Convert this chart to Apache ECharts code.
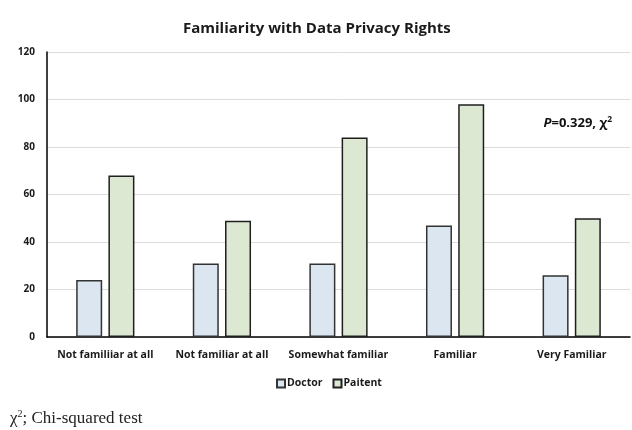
<!DOCTYPE html>
<html>
<head>
<meta charset="utf-8">
<style>
  html, body { margin: 0; padding: 0; background: #fff; }
  #chart { width: 632px; height: 430px; }
</style>
<script src="https://cdn.jsdelivr.net/npm/echarts@6/dist/echarts.min.js"></script>
</head>
<body>
<div id="chart"></div>
<script>
// Familiarity levels and respondent counts
var categories = ['Not familiiar at all', 'Not familiar at all', 'Somewhat familiar', 'Familiar', 'Very Familiar'];
var doctorValues = [24, 31, 31, 47, 26];
var patientValues = [68, 49, 84, 98, 50];
var seriesNames = ['Doctor', 'Paitent'];
var yTicks = { min: 0, max: 120, interval: 20 };

var labelFont = '"Open Sans", Lato, sans-serif';

var chart = echarts.init(document.getElementById('chart'));
chart.setOption({
  animation: false,
  title: {
    text: 'Familiarity with Data Privacy Rights',
    left: 178,
    top: 16,
    textStyle: { fontFamily: labelFont, fontWeight: 'bold', fontSize: 15, color: '#1a1a1a' }
  },
  legend: {
    data: seriesNames,
    top: 373,
    left: 271,
    itemWidth: 8,
    itemHeight: 8,
    itemGap: 10,
    icon: 'rect',
    textStyle: { fontFamily: labelFont, fontWeight: 'bold', fontSize: 10.5, color: '#1a1a1a', padding: [0, 0, 0, -3] }
  },
  grid: { left: 47, right: 2, top: 52, bottom: 93, containLabel: false },
  xAxis: {
    type: 'category',
    data: categories,
    axisLine: { lineStyle: { color: '#000', width: 1.5 } },
    axisTick: { show: false },
    axisLabel: { fontFamily: labelFont, fontWeight: 'bold', fontSize: 10.5, color: '#1a1a1a', margin: 13, interval: 0 }
  },
  yAxis: {
    type: 'value',
    min: yTicks.min,
    max: yTicks.max,
    interval: yTicks.interval,
    axisLine: { show: true, lineStyle: { color: '#000', width: 1.5 } },
    axisTick: { show: false },
    splitLine: { lineStyle: { color: '#dcdcdc', width: 1 } },
    axisLabel: { fontFamily: labelFont, fontWeight: 'bold', fontSize: 10, color: '#1a1a1a', margin: 12 }
  },
  series: [
    {
      name: seriesNames[0],
      type: 'bar',
      data: doctorValues,
      barWidth: 26,
      barGap: '24%',
      itemStyle: { color: '#dbe6f1', borderColor: '#333333', borderWidth: 1.5 }
    },
    {
      name: seriesNames[1],
      type: 'bar',
      data: patientValues,
      barWidth: 26,
      barGap: '24%',
      itemStyle: { color: '#dde8d3', borderColor: '#1f1f1f', borderWidth: 1.5 }
    }
  ],
  graphic: [
    {
      type: 'text',
      right: 20,
      top: 115,
      style: {
        text: '{i|P}{b|=0.329, χ}{s|2}',
        rich: {
          i: { fontFamily: labelFont, fontWeight: 'bold', fontStyle: 'italic', fontSize: 13, fill: '#111' },
          b: { fontFamily: labelFont, fontWeight: 'bold', fontSize: 13, fill: '#111' },
          s: { fontFamily: labelFont, fontWeight: 'bold', fontSize: 8.5, fill: '#111', padding: [0, 0, 7, 0] }
        }
      }
    },
    {
      type: 'text',
      left: 10,
      top: 409,
      style: {
        text: '{t|χ}{s|2}{t|; Chi-squared test}',
        rich: {
          t: { fontFamily: '"Liberation Serif", "Times New Roman", serif', fontSize: 17, fill: '#222' },
          s: { fontFamily: '"Liberation Serif", "Times New Roman", serif', fontSize: 10, fill: '#222', padding: [0, 0, 9, 0] }
        }
      }
    }
  ]
});
</script>
</body>
</html>
